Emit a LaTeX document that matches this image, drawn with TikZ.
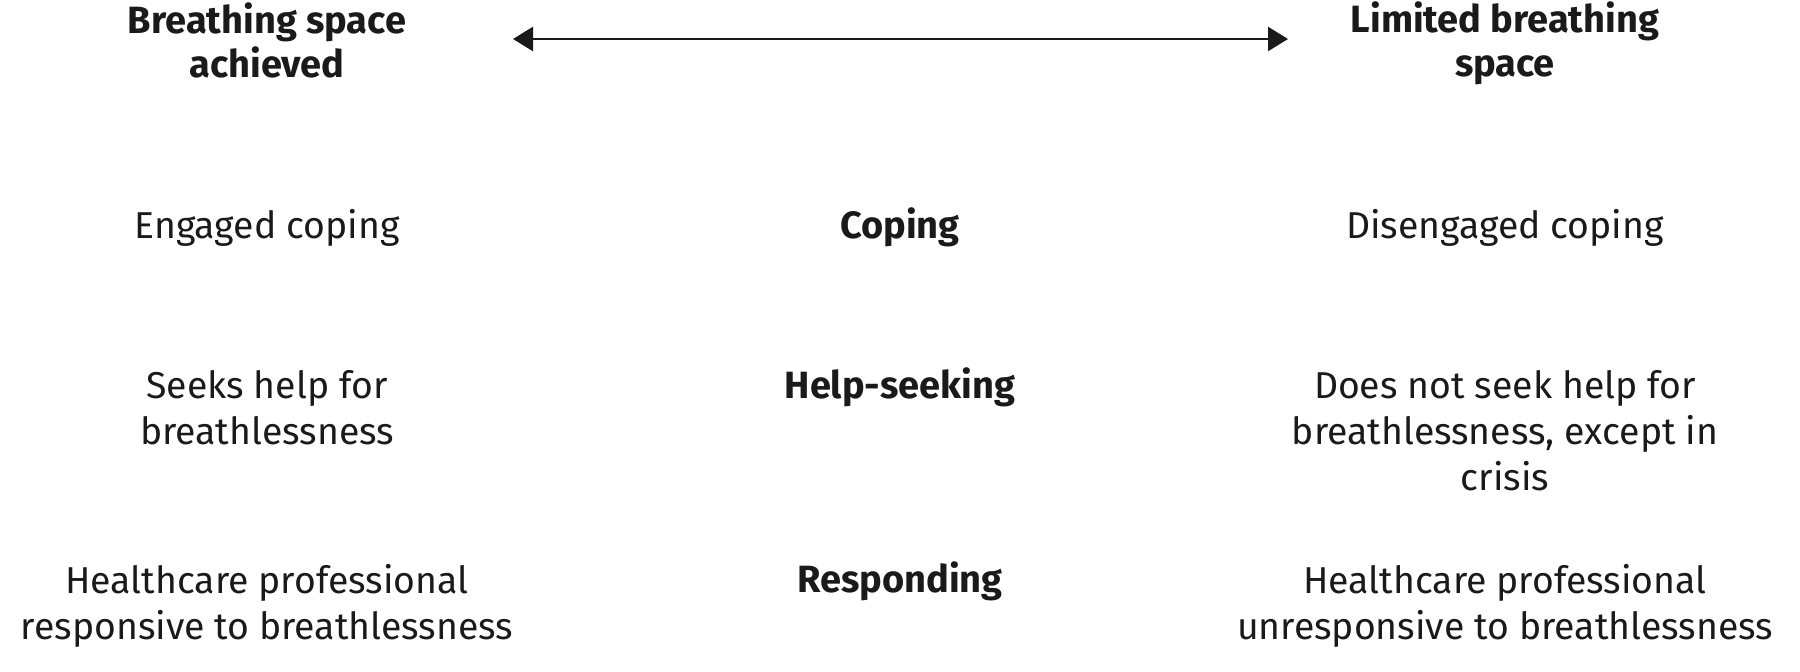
\documentclass[tikz,border=0pt]{standalone}
\usepackage{fontspec}
\setmainfont{Fira Sans}
\usetikzlibrary{arrows.meta}
\definecolor{ink}{HTML}{1A1A1A}
\begin{document}
\begin{tikzpicture}[x=1pt,y=1pt,
  txt/.style={anchor=base,inner sep=0pt,align=center,text=ink,
    font=\fontsize{37.4}{46}\selectfont},
  hdr/.style={anchor=base,inner sep=0pt,align=center,text=ink,
    font=\fontsize{38}{44}\selectfont\bfseries},
  lbl/.style={anchor=base,inner sep=0pt,align=center,text=ink,
    font=\fontsize{38}{46}\selectfont\bfseries},
  dbl/.style={{Triangle[length=20pt,width=24pt]}-{Triangle[length=20pt,width=24pt]},line width=2.5pt,draw=ink}]
\useasboundingbox (0,0) rectangle (1800,-672);
% base anchor = baseline of the last line
\node[hdr] (hl) at (267,-77) {Breathing space\\achieved};
\node[hdr] (hr) at (1505,-76) {Limited breathing\\space};
\coordinate (al) at (513,-39);
\coordinate (ar) at (1288,-39);
\draw[dbl] (al) -- (ar);
\node[txt] (c1) at (267,-238) {Engaged coping};
\node[lbl] (c2) at (900,-238) {Coping};
\node[txt] (c3) at (1505,-238) {Disengaged coping};
\node[txt] (h1) at (267,-444) {Seeks help for\\breathlessness};
\node[lbl] (h2) at (900,-398) {Help-seeking};
\node[txt] (h3) at (1505,-490) {Does not seek help for\\breathlessness, except in\\crisis};
\node[txt] (r1) at (267,-639) {Healthcare professional\\responsive to breathlessness};
\node[lbl] (r2) at (900,-592) {Responding};
\node[txt] (r3) at (1505,-639) {Healthcare professional\\unresponsive to breathlessness};
\end{tikzpicture}
\end{document}
